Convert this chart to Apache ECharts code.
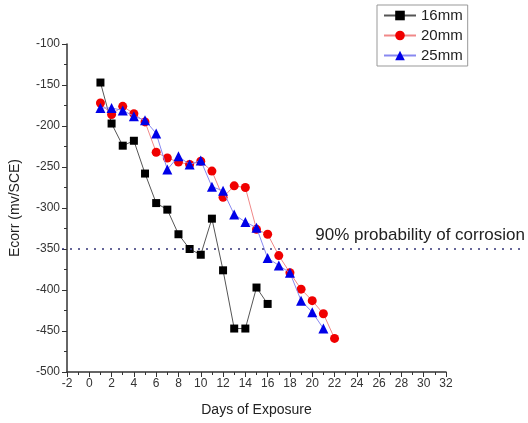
<!DOCTYPE html>
<html>
<head>
<meta charset="utf-8">
<script src="https://cdn.jsdelivr.net/npm/echarts@6/dist/echarts.min.js"></script>
<style>
  html, body { margin: 0; padding: 0; background: #fff; }
  #chart { width: 528px; height: 423px; }
</style>
</head>
<body>
<div id="chart"></div>
<script>
  // days of exposure
  const days16 = [1, 2, 3, 4, 5, 6, 7, 8, 9, 10, 11, 12, 13, 14, 15, 16];
  const days20 = [1, 2, 3, 4, 5, 6, 7, 8, 9, 10, 11, 12, 13, 14, 15, 16, 17, 18, 19, 20, 21, 22];
  const days25 = [1, 2, 3, 4, 5, 6, 7, 8, 9, 10, 11, 12, 13, 14, 15, 16, 17, 18, 19, 20, 21];

  // Ecorr (mv/SCE)
  const ecorr16 = [-147, -197, -224, -218, -258, -294, -302, -332, -350, -357, -313, -376, -447, -447, -397, -417];
  const ecorr20 = [-172, -186, -176, -185, -195, -232, -239, -244, -247, -243, -255, -287, -273, -275, -326, -332, -358, -379, -399, -413, -429, -459];
  const ecorr25 = [-178, -178, -181, -188, -193, -209, -253, -237, -247, -242, -274, -279, -308, -317, -324, -361, -370, -379, -413, -427, -447];

  const seriesNames = ['16mm', '20mm', '25mm'];
  const thresholdValue = -350;
  const thresholdText = '90% probability of corrosion';

  function pairs(xs, ys) {
    return xs.map((x, i) => [x, ys[i]]);
  }

  const fontFamily = 'Liberation Sans, Arial, sans-serif';
  const myChart = echarts.init(document.getElementById('chart'), null, { renderer: 'canvas' });

  const option = {
    animation: false,
    textStyle: { fontFamily },
    legend: {
      data: seriesNames,
      orient: 'vertical',
      left: 377,
      top: 5,
      itemWidth: 32,
      itemHeight: 12,
      itemGap: 5,
      padding: [3, 5, 3, 6],
      borderColor: '#999',
      borderWidth: 1,
      textStyle: { fontSize: 15, color: '#222', fontFamily }
    },
    grid: [
      { left: 62, right: 82, top: 44, bottom: 51 },
      { left: 62, right: 6, top: 44, bottom: 51 } // wider grid only for the threshold line
    ],
    xAxis: [
      {
        type: 'value',
        min: -2,
        max: 32,
        interval: 2,
        name: 'Days of Exposure',
        nameLocation: 'middle',
        nameGap: 31,
        nameTextStyle: { fontSize: 14, color: '#222' },
        axisLine: { onZero: false, lineStyle: { color: '#333', width: 1.5 } },
        axisTick: { inside: false, length: 5, lineStyle: { color: '#333' } },
        minorTick: { show: true, splitNumber: 2, length: 3, lineStyle: { color: '#333' } },
        axisLabel: { fontSize: 12, color: '#333', margin: 6 },
        splitLine: { show: false }
      },
      { type: 'value', gridIndex: 1, min: 0, max: 1, show: false }
    ],
    yAxis: [
      {
        type: 'value',
        min: -500,
        max: -100,
        interval: 50,
        name: 'Ecorr (mv/SCE)',
        nameLocation: 'middle',
        nameGap: 45,
        nameTextStyle: { fontSize: 14, color: '#222' },
        axisLine: { show: true, onZero: false, lineStyle: { color: '#333', width: 1.5 } },
        axisTick: { show: true, inside: false, length: 5, lineStyle: { color: '#333' } },
        minorTick: { show: true, splitNumber: 2, length: 3, lineStyle: { color: '#333' } },
        axisLabel: { fontSize: 12, color: '#333', margin: 7 },
        splitLine: { show: false }
      },
      { type: 'value', gridIndex: 1, min: -500, max: -100, show: false }
    ],
    series: [
      {
        name: '16mm',
        type: 'line',
        data: pairs(days16, ecorr16),
        symbol: 'rect',
        symbolSize: 8,
        itemStyle: { color: '#000' },
        lineStyle: { color: '#555', width: 1 },
        z: 3
      },
      {
        name: '20mm',
        type: 'line',
        data: pairs(days20, ecorr20),
        symbol: 'circle',
        symbolSize: 9,
        itemStyle: { color: '#f00000' },
        lineStyle: { color: '#f08888', width: 1 },
        z: 3
      },
      {
        name: '25mm',
        type: 'line',
        data: pairs(days25, ecorr25),
        symbol: 'triangle',
        symbolSize: 10,
        itemStyle: { color: '#0000e8' },
        lineStyle: { color: '#8888f0', width: 1 },
        z: 4
      },
      {
        name: 'threshold',
        type: 'line',
        xAxisIndex: 1,
        yAxisIndex: 1,
        data: [],
        markLine: {
          silent: true,
          symbol: 'none',
          lineStyle: { color: '#333377', type: [2, 6], width: 1.6 },
          label: {
            position: 'insideEndTop',
            formatter: thresholdText,
            fontSize: 17,
            color: '#222',
            distance: [-3, 5]
          },
          data: [{ yAxis: thresholdValue }]
        }
      }
    ]
  };

  myChart.setOption(option);
</script>
</body>
</html>
